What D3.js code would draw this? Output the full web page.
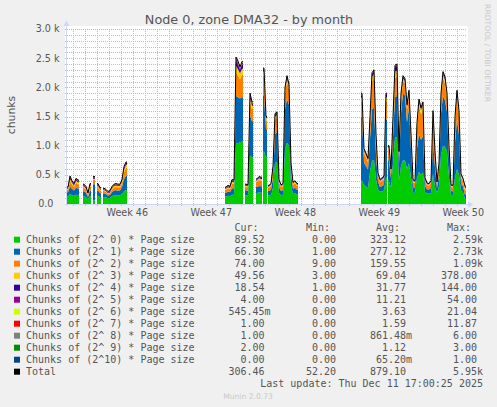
<!DOCTYPE html>
<html><head><meta charset="utf-8">
<script src="https://cdn.jsdelivr.net/npm/d3@7"></script>
<style>html,body{margin:0;padding:0;background:#F0F0F0;}svg{display:block}</style>
</head><body><svg id="c" width="497" height="407"></svg>
<script>
// ---------------- DATA ----------------
const startUTC = Date.UTC(2025, 10, 8, 11, 24);   // left edge of the month graph
const spanHours = 800;
// hours after startUTC for each sample (gaps = no data)
const sampleHour = [
  2,6,10,14,18,22, 34,38,42,46, 54, 62,66, 74,78,82,86,90,94,98,102,106,110,114,118,
  318,322,326,330,334,338,342,346,350, 358,362,366,370, 380,384,388, 394,398,
  404,408,412,416,420,424,428,432,436,440,444,448,452,456,460,
  590,594,598,602,606,610,614,618,622,626,630,634,638,
  644,648,652,656,660,664,668,672,676,680,684,688,692,696,700,704,708,712,716,720,
  724,728,732,736,740,744,748,752,756,760,764,768,772,776,780,784,788,792,796
];
const s0 = [ // 2^0
  130,170,150,140,160,155, 130,120,80,135, 60, 140,120, 120,115,100,105,135,150,150,150,148,170,220,240,
  130,140,135,160,160,1050,1040,1060,1070, 150,145,830,800, 190,200,195, 900,800,
  150,160,280,700,720,190,150,160,950,1050,1000,320,170,185,165,
  400,320,300,280,550,740,750,420,250,210,220,230,450,
  400,280,700,1140,1150,400,650,750,740,600,700,450,200,190,450,550,500,540,210,180,
  175,190,520,300,190,300,850,1000,980,900,450,160,155,450,600,500,230,200,90
];
const s1 = [ // 2^1
  70,130,110,90,120,110, 90,75,40,95, 280, 90,65, 65,55,45,50,70,80,85,80,82,120,210,240,
  65,75,70,110,105,800,790,750,760, 85,80,690,620, 100,110,110, 950,480,
  75,85,170,500,510,100,75,80,680,750,700,200,90,95,80,
  1100,390,350,310,570,880,900,430,130,80,90,100,1000,
  350,160,450,690,700,280,900,1150,1120,800,950,500,90,85,500,650,600,620,100,75,
  75,90,570,320,80,220,700,850,800,680,330,65,65,600,850,680,120,100,66
];
const s2 = [ // 2^2
  45,90,75,60,85,75, 60,50,30,62, 70, 60,45, 40,35,28,30,45,55,58,55,55,70,120,140,
  50,55,50,80,78,400,370,330,380, 60,60,230,210, 90,100,95, 350,150,
  60,65,130,250,250,85,65,70,270,300,270,120,70,80,65,
  250,160,150,130,280,480,500,250,100,85,90,100,300,
  180,110,250,330,330,150,220,200,200,220,220,180,85,80,350,480,440,470,90,70,
  65,80,450,220,75,130,260,300,290,240,160,70,65,350,420,340,110,95,74
];
const s3 = [ // 2^3
  15,40,30,25,35,32, 25,22,12,25, 25, 25,18, 15,15,12,14,18,22,24,22,22,25,45,55,
  15,18,15,30,30,120,110,100,110, 20,20,60,55, 25,30,30, 70,40,
  15,20,40,50,50,25,20,20,50,50,40,35,20,20,20,
  70,40,35,30,50,80,80,50,25,20,25,25,80,
  40,30,60,110,110,40,70,50,50,45,40,40,25,25,60,70,70,70,25,20,
  20,20,40,35,20,30,50,70,70,50,40,20,20,60,50,50,35,30,50
];
const s4 = [ // 2^4
  12,32,17,17,22,20, 17,15,10,15, 17, 17,14, 12,12,12,13,14,15,15,15,15,17,27,27,
  12,14,12,22,19,80,75,60,70, 12,12,45,35, 12,15,15, 35,20,
  10,10,15,30,30,10,10,10,30,30,25,15,10,10,10,
  40,20,18,15,30,40,40,30,15,15,15,15,40,
  20,12,25,70,70,20,35,30,25,20,25,20,12,12,25,30,25,30,15,10,
  10,12,10,15,10,12,25,30,25,20,12,10,10,25,20,20,15,10,19
];
const s5 = [ // 2^5
  10,10,10,10,10,10, 10,10,10,10, 10, 10,10, 10,10,10,10,10,10,10,10,10,10,10,10,
  10,10,10,10,10,40,37,28,28, 7,7,25,17, 7,8,8, 14,6,
  6,6,8,11,11,6,6,6,11,11,8,6,6,6,6,
  22,11,9,8,11,17,17,11,6,6,6,6,17,
  6,5,8,22,22,6,14,11,8,8,8,6,5,5,8,11,8,11,6,3,
  3,5,6,6,3,5,8,11,8,6,5,3,3,8,6,6,6,3,4
];
const s6 = [ // 2^6
  4,4,4,4,4,4, 4,4,4,4, 4, 4,4, 4,4,4,4,4,4,4,4,4,4,4,4,
  4,4,4,4,4,13,12,10,10, 3,3,9,6, 3,3,3, 5,2,
  2,2,3,4,4,2,2,2,4,4,3,2,2,2,2,
  8,4,4,3,4,6,6,4,2,2,2,2,6,
  2,1,3,8,8,2,5,4,3,3,3,2,1,1,3,4,3,4,2,1,
  1,1,2,2,1,1,3,4,3,2,1,1,1,3,2,2,2,1,0.5
];
const s7 = [ // 2^7
  2,2,2,2,2,2, 2,2,2,2, 2, 2,2, 2,2,2,2,2,2,2,2,2,2,2,2,
  2,2,2,2,2,8,7,5,5, 1,1,5,3, 1,2,2, 3,1,
  1,1,2,2,2,1,1,1,2,2,2,1,1,1,1,
  4,2,2,2,2,3,3,2,1,1,1,1,3,
  1,1,2,4,4,1,3,2,2,2,2,1,1,1,2,2,2,2,1,0,
  0,1,1,1,0,1,2,2,2,1,1,0,0,2,1,1,1,0,1
];
const s8 = [ // 2^8
  1,1,1,1,1,1, 1,1,1,1, 1, 1,1, 1,1,1,1,1,1,1,1,1,1,1,1,
  1,1,1,1,1,4,4,3,3, 1,1,3,2, 1,1,1, 1,0,
  0,0,1,1,1,0,0,0,1,1,1,0,0,0,0,
  3,1,1,1,1,2,2,1,0,0,0,0,2,
  0,0,1,3,3,0,1,1,1,1,1,0,0,0,1,1,1,1,0,0,
  0,0,0,0,0,0,1,1,1,0,0,0,0,1,0,0,0,0,1
];
const s9 = [ // 2^9
  1,1,1,1,1,1, 1,1,1,1, 1, 1,1, 1,1,1,1,1,1,1,1,1,1,1,1,
  1,1,1,1,1,4,4,3,3, 1,1,2,2, 1,1,1, 2,1,
  1,1,1,2,2,1,1,1,2,2,1,1,1,1,1,
  2,2,1,1,2,2,2,2,1,1,1,1,2,
  1,1,1,2,2,1,2,2,1,1,1,1,1,1,1,2,1,2,1,1,
  1,1,1,1,1,1,1,2,1,1,1,1,1,1,1,1,1,1,2
];
const s10 = [ // 2^10
  0,0,0,0,0,0, 0,0,0,0, 0, 0,0, 0,0,0,0,0,0,0,0,0,0,0,0,
  0,0,0,0,0,1,1,1,1, 0,0,1,0, 0,0,0, 0,0,
  0,0,0,0,0,0,0,0,0,0,0,0,0,0,0,
  1,0,0,0,0,0,0,0,0,0,0,0,0,
  0,0,0,1,1,0,0,0,0,0,0,0,0,0,0,0,0,0,0,0,
  0,0,0,0,0,0,0,0,0,0,0,0,0,0,0,0,0,0,0
];

const seriesNames = [
  "Chunks of (2^ 0) * Page size","Chunks of (2^ 1) * Page size","Chunks of (2^ 2) * Page size",
  "Chunks of (2^ 3) * Page size","Chunks of (2^ 4) * Page size","Chunks of (2^ 5) * Page size",
  "Chunks of (2^ 6) * Page size","Chunks of (2^ 7) * Page size","Chunks of (2^ 8) * Page size",
  "Chunks of (2^ 9) * Page size","Chunks of (2^10) * Page size","Total"
];
const seriesColors = ["#00CC00","#0066B3","#FF8000","#FFCC00","#330099","#990099",
                      "#CCFF00","#FF0000","#808080","#008F00","#00487D","#000000"];
const curVals = ["89.52","66.30","74.00","49.56","18.54","4.00","545.45m","1.00","1.00","2.00","0.00","306.46"];
const minVals = ["0.00","1.00","9.00","3.00","1.00","0.00","0.00","0.00","0.00","0.00","0.00","52.20"];
const avgVals = ["323.12","277.12","159.55","69.04","31.77","11.21","3.63","1.59","861.48m","1.12","65.20m","879.10"];
const maxVals = ["2.59k","2.73k","1.09k","378.00","144.00","54.00","21.04","11.87","6.00","3.00","1.00","5.95k"];
const columnHeads = ["Cur:","Min:","Avg:","Max:"];

const yTickValues = [0,500,1000,1500,2000,2500,3000];
const yTickLabels = ["0.0  ","0.5 k","1.0 k","1.5 k","2.0 k","2.5 k","3.0 k"];
const weekStarts = ["2025-11-10","2025-11-17","2025-11-24","2025-12-01","2025-12-08"];
const weekLabels = ["Week 46","Week 47","Week 48","Week 49","Week 50"];

const titleText = "Node 0, zone DMA32 - by month";
const yAxisTitle = "chunks";
const lastUpdate = "Last update: Thu Dec 11 17:00:25 2025";

// ---------------- DRAW ----------------
const series = [s0,s1,s2,s3,s4,s5,s6,s7,s8,s9,s10];
series.forEach((a,i)=>{ if(a.length!==sampleHour.length) throw new Error("len mismatch s"+i+" "+a.length+" vs "+sampleHour.length); });
const keys = series.map((_,i)=>"s"+i);
const HOUR = 3600e3;
const t = h => new Date(startUTC + h*HOUR);

const svg = d3.select("#c");
const FONT = "DejaVu Sans, sans-serif";
const MONO = "DejaVu Sans Mono, monospace";
const TXT = "#555";

svg.append("rect").attr("width",497).attr("height",407).attr("fill","#F0F0F0");

const L = 67, R = 467, T = 29, B = 204;
const x = d3.scaleUtc().domain([t(0), t(spanHours)]).range([L, R]);
const y = d3.scaleLinear().domain([0, 3000]).range([B, T]);

svg.append("rect").attr("x",65).attr("y",26).attr("width",403).attr("height",179).attr("fill","#FFFFFF");

// grid
const grid = svg.append("g").attr("shape-rendering","crispEdges");
d3.range(0, 3001, 100).forEach(v=>{
  if (v % 500 === 0) return;
  const yy = Math.round(y(v)) + 0.5;
  grid.append("line").attr("x1",L-2).attr("x2",R).attr("y1",yy).attr("y2",yy)
    .attr("stroke","#BEBEBE").attr("stroke-dasharray","1,1");
});
d3.utcDay.range(t(0), t(spanHours)).forEach(d=>{
  const xx = Math.round(x(d)) + 0.5;
  grid.append("line").attr("x1",xx).attr("x2",xx).attr("y1",T).attr("y2",B+2)
    .attr("stroke","#BEBEBE").attr("stroke-dasharray","1,1");
});
yTickValues.forEach(v=>{
  const yy = Math.round(y(v)) + 0.5;
  if (v===0) return;
  grid.append("line").attr("x1",L-2).attr("x2",R).attr("y1",yy).attr("y2",yy)
    .attr("stroke","#FF9E9E").attr("stroke-dasharray","1,1");
});
d3.utcMonday.range(t(0), t(spanHours)).forEach(d=>{
  const xx = Math.round(x(d)) + 0.5;
  grid.append("line").attr("x1",xx).attr("x2",xx).attr("y1",T).attr("y2",B+2)
    .attr("stroke","#FF9E9E").attr("stroke-dasharray","1,1");
});

// data rows & segments
const rows = sampleHour.map((h,i)=>{ const r={h}; keys.forEach((k,j)=>r[k]=series[j][i]); return r; });
const segments = [];
rows.forEach((r,i)=>{
  if (i===0 || r.h - rows[i-1].h > 4) segments.push([]);
  segments[segments.length-1].push(r);
});
const stack = d3.stack().keys(keys);
const area = d3.area().x(d=>x(t(d.data.h))).y0(d=>y(d[0])).y1(d=>y(d[1]));
const totalOf = r => keys.reduce((s,k)=>s+r[k],0);
const line = d3.line().x(d=>x(t(d.h))).y(d=>y(totalOf(d)));
const plot = svg.append("g");
segments.forEach(seg=>{
  const first = seg[0], last = seg[seg.length-1];
  const ext = [Object.assign({}, first, {h: first.h-2}), ...seg, Object.assign({}, last, {h: last.h+2})];
  stack(ext).forEach((layer,j)=>{
    plot.append("path").attr("d", area(layer)).attr("fill", seriesColors[j]);
  });
  plot.append("path").attr("d", line(ext)).attr("fill","none").attr("stroke","#000").attr("stroke-width",1);
});

// axes
const axisC = "#CFD6F8";
svg.append("line").attr("x1",66.5).attr("x2",66.5).attr("y1",B+2).attr("y2",24).attr("stroke",axisC);
svg.append("path").attr("d","M63.5,26L69.5,26L66.5,20.5Z").attr("fill",axisC);
svg.append("line").attr("x1",L-2).attr("x2",469).attr("y1",B+0.5).attr("y2",B+0.5).attr("stroke",axisC);
svg.append("path").attr("d","M468,201.5L468,207.5L473.5,204.5Z").attr("fill",axisC);

// y tick labels
yTickValues.forEach((v,i)=>{
  svg.append("text").attr("x",59.5).attr("y",y(v)+3.4).attr("text-anchor","end")
    .attr("xml:space","preserve").style("white-space","pre")
    .attr("font-family",FONT).attr("font-size",9.6).attr("fill",TXT).text(yTickLabels[i]);
});
// week labels
weekStarts.forEach((ws,i)=>{
  const d = new Date(Date.parse(ws+"T00:00:00Z") + 84*HOUR);
  svg.append("text").attr("x",x(d)).attr("y",215.5).attr("text-anchor","middle")
    .attr("font-family",FONT).attr("font-size",9.6).attr("fill",TXT).text(weekLabels[i]);
});

// title & axis title
svg.append("text").attr("x",249).attr("y",24).attr("text-anchor","middle")
  .attr("font-family",FONT).attr("font-size",12.8).attr("fill",TXT).text(titleText);
svg.append("text").attr("transform","translate(15,115) rotate(-90)").attr("text-anchor","middle")
  .attr("font-family",FONT).attr("font-size",10.8).attr("fill",TXT).text(yAxisTitle);
svg.append("text").attr("transform","translate(484.5,53) rotate(90)").attr("text-anchor","middle")
  .attr("font-family",FONT).attr("font-size",7.6).attr("fill","#C8C8C8").text("RRDTOOL / TOBI OETIKER");

// legend
const colRight = [264.5, 336, 406, 477];
columnHeads.forEach((h,i)=>{
  svg.append("text").attr("x",colRight[i]-6).attr("y",231.3).attr("text-anchor","end")
    .attr("font-family",MONO).attr("font-size",10).attr("fill",TXT).text(h);
});
const cols = [curVals, minVals, avgVals, maxVals];
seriesNames.forEach((name,i)=>{
  const cy = 239.7 + 12*i;
  svg.append("rect").attr("x",14).attr("y",cy-3).attr("width",6).attr("height",6).attr("fill",seriesColors[i]);
  svg.append("text").attr("x",26).attr("y",cy+3.6).attr("xml:space","preserve").style("white-space","pre")
    .attr("font-family",MONO).attr("font-size",10).attr("fill",TXT).text(name);
  cols.forEach((arr,c)=>{
    const m = arr[i].match(/^([\d.]+)([km]?)$/);
    svg.append("text").attr("x",colRight[c]).attr("y",cy+3.6).attr("text-anchor","end")
      .attr("font-family",MONO).attr("font-size",10).attr("fill",TXT).text(m[1]);
    if (m[2]) svg.append("text").attr("x",colRight[c]).attr("y",cy+3.6)
      .attr("font-family",MONO).attr("font-size",10).attr("fill",TXT).text(m[2]);
  });
});
svg.append("text").attr("x",483).attr("y",386.8).attr("text-anchor","end")
  .attr("font-family",MONO).attr("font-size",10).attr("fill",TXT).text(lastUpdate);
svg.append("text").attr("x",248).attr("y",398.7).attr("text-anchor","middle")
  .attr("font-family",FONT).attr("font-size",7.6).attr("fill","#C8C8C8").text("Munin 2.0.73");
</script></body></html>
